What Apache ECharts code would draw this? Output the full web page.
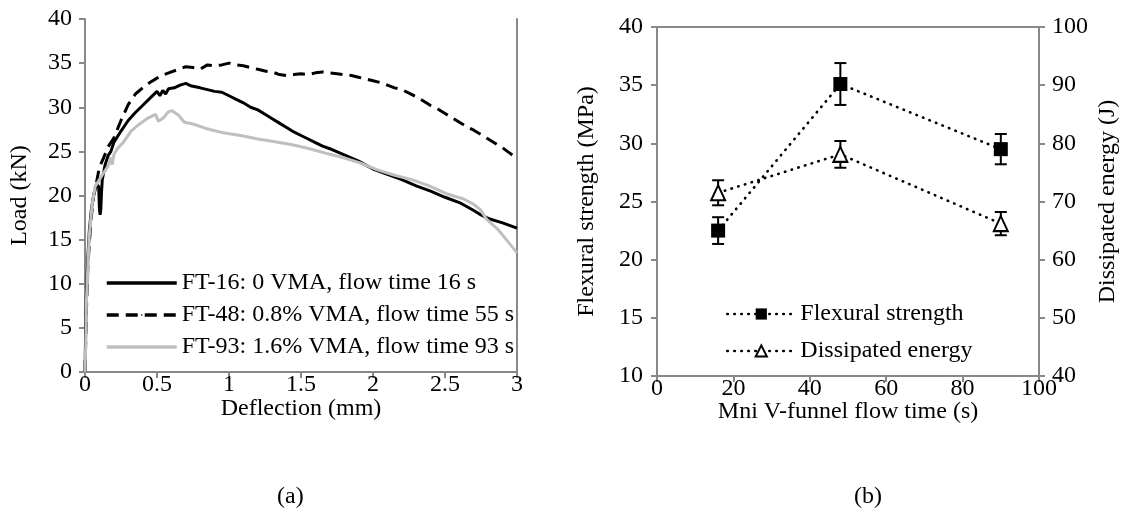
<!DOCTYPE html>
<html><head><meta charset="utf-8">
<script src="https://cdn.jsdelivr.net/npm/echarts@6/dist/echarts.min.js"></script>
<style>html,body{margin:0;padding:0;background:#fff}#c{width:1126px;height:518px}</style>
</head><body><div id="c"></div>
<script>
// ---- Data (a): load-deflection curves [deflection mm, load kN]
const ft16 = [[0,0],[0.005,5],[0.01,9],[0.02,13],[0.03,16],[0.045,18.5],[0.06,20],[0.08,21.3],[0.095,21.0],[0.1,18.5],[0.105,17.8],[0.11,18.5],[0.115,20.5],[0.12,21.8],[0.14,23.5],[0.16,24.5],[0.18,25],[0.2,26],[0.25,27.3],[0.3,28.5],[0.35,29.4],[0.4,30.2],[0.45,31],[0.5,31.8],[0.52,31.3],[0.54,31.9],[0.56,31.5],[0.58,32.1],[0.62,32.2],[0.66,32.5],[0.7,32.7],[0.74,32.4],[0.8,32.2],[0.85,32.0],[0.9,31.8],[0.95,31.7],[1.0,31.3],[1.05,30.9],[1.1,30.5],[1.15,30.0],[1.2,29.7],[1.25,29.2],[1.3,28.7],[1.35,28.2],[1.4,27.7],[1.45,27.2],[1.5,26.8],[1.55,26.4],[1.6,26.0],[1.65,25.6],[1.7,25.3],[1.8,24.6],[1.9,23.9],[2.0,23.0],[2.1,22.4],[2.2,21.8],[2.3,21.1],[2.4,20.5],[2.5,19.8],[2.6,19.2],[2.7,18.3],[2.75,17.8],[2.8,17.4],[2.9,16.9],[3.0,16.3]];
const ft48 = [[0,0],[0.01,7],[0.02,12],[0.04,17],[0.06,20],[0.08,21.5],[0.1,23.2],[0.13,24.3],[0.16,25.5],[0.2,26.5],[0.25,28.5],[0.3,30.3],[0.35,31.5],[0.4,32.2],[0.45,32.8],[0.5,33.3],[0.55,33.7],[0.6,34.0],[0.65,34.3],[0.7,34.6],[0.75,34.5],[0.8,34.3],[0.85,34.8],[0.9,34.7],[0.95,34.8],[1.0,35.0],[1.05,34.8],[1.1,34.7],[1.15,34.5],[1.2,34.3],[1.25,34.1],[1.3,34.0],[1.35,33.7],[1.4,33.6],[1.45,33.7],[1.5,33.8],[1.55,33.7],[1.6,33.9],[1.65,34.0],[1.7,33.9],[1.75,33.8],[1.8,33.7],[1.85,33.6],[1.9,33.4],[1.95,33.2],[2.0,33.0],[2.05,32.8],[2.1,32.5],[2.15,32.2],[2.2,32.0],[2.25,31.6],[2.3,31.2],[2.35,30.7],[2.4,30.2],[2.45,29.8],[2.5,29.3],[2.55,28.8],[2.6,28.3],[2.65,27.8],[2.7,27.4],[2.75,26.9],[2.8,26.4],[2.85,25.9],[2.9,25.4],[2.95,24.8],[3.0,24.2]];
const ft93 = [[0,0],[0.005,3],[0.01,8],[0.02,12],[0.03,15.5],[0.05,19],[0.07,21],[0.1,21.8],[0.13,22.6],[0.16,23.3],[0.18,24.3],[0.19,23.5],[0.2,24.6],[0.22,25.2],[0.27,26.1],[0.32,27.3],[0.37,28],[0.44,28.8],[0.49,29.2],[0.5,29.3],[0.51,28.4],[0.545,28.8],[0.58,29.5],[0.605,29.6],[0.65,29.1],[0.69,28.3],[0.75,28.1],[0.84,27.6],[0.96,27.1],[1.08,26.8],[1.2,26.4],[1.32,26.1],[1.44,25.75],[1.56,25.3],[1.67,24.8],[1.79,24.3],[1.91,23.7],[2.03,22.9],[2.15,22.3],[2.27,21.8],[2.39,21.1],[2.51,20.2],[2.63,19.6],[2.7,19.0],[2.745,18.4],[2.79,17.3],[2.865,16.2],[2.936,14.8],[3.0,13.5]];
const namesA = ['FT-16: 0 VMA, flow time 16 s','FT-48: 0.8% VMA, flow time 55 s','FT-93: 1.6% VMA, flow time 93 s'];

// ---- Data (b): flow time vs strength / energy
const flowTime = [16, 48, 90];
const flexStrength = [22.5, 35.1, 29.5];
const flexErr = [1.15, 1.8, 1.3];
const energy = [71.5, 78.1, 66.2];
const energyErr = [2.15, 2.3, 2.0];
const namesB = ['Flexural strength','Dissipated energy'];

const FONT = 'Liberation Serif';
const FS = 24;
const AX = '#888';

function errBar(params, api) {
  const x = api.value(0), y = api.value(1), e = api.value(2);
  const t = api.coord([x, y + e]), b = api.coord([x, y - e]);
  const hw = 6, st = {stroke:'#000', lineWidth:2};
  return {type:'group', children:[
    {type:'line', shape:{x1:t[0],y1:t[1],x2:b[0],y2:b[1]}, style:st},
    {type:'line', shape:{x1:t[0]-hw,y1:t[1],x2:t[0]+hw,y2:t[1]}, style:st},
    {type:'line', shape:{x1:b[0]-hw,y1:b[1],x2:b[0]+hw,y2:b[1]}, style:st}
  ]};
}

const axisCommon = {
  axisLine:{show:true, lineStyle:{color:AX, width:2}},
  axisTick:{show:true, inside:false, length:6, lineStyle:{color:AX, width:2}},
  splitLine:{show:false},
  nameMoveOverlap:false,
  axisLabel:{color:'#000', fontFamily:FONT, fontSize:FS},
  nameTextStyle:{color:'#000', fontFamily:FONT, fontSize:FS}
};
function lab(m){ return Object.assign({}, axisCommon.axisLabel, {margin:m}); }

const chart = echarts.init(document.getElementById('c'), null, {renderer:'canvas'});
chart.setOption({
  animation:false,
  textStyle:{fontFamily:FONT, color:'#000'},
  grid:[
    {left:85, top:19, width:432, height:353},
    {left:657, top:27, width:382, height:349, show:true, borderColor:AX, borderWidth:2}
  ],
  xAxis:[
    Object.assign({}, axisCommon, {gridIndex:0, type:'value', min:0, max:3, interval:0.5,
      name:'Deflection (mm)', nameLocation:'middle', nameGap:25, axisLabel:lab(1)}),
    Object.assign({}, axisCommon, {gridIndex:1, type:'value', min:0, max:100, interval:20,
      name:'Mni V-funnel flow time (s)', nameLocation:'middle', nameGap:24, axisLabel:lab(1)})
  ],
  yAxis:[
    Object.assign({}, axisCommon, {gridIndex:0, type:'value', min:0, max:40, interval:5,
      name:'Load (kN)', nameLocation:'middle', nameGap:53, nameRotate:90, axisLabel:lab(13)}),
    {gridIndex:0, type:'value', position:'right', min:0, max:40,
      axisLine:{show:true, lineStyle:{color:AX, width:2}}, axisTick:{show:false}, axisLabel:{show:false}, splitLine:{show:false}},
    Object.assign({}, axisCommon, {gridIndex:1, type:'value', min:10, max:40, interval:5,
      name:'Flexural strength (MPa)', nameLocation:'middle', nameGap:58, nameRotate:90, axisLabel:lab(14)}),
    Object.assign({}, axisCommon, {gridIndex:1, type:'value', position:'right', min:40, max:100, interval:10,
      name:'Dissipated energy (J)', nameLocation:'middle', nameGap:57, nameRotate:90, axisLabel:lab(13)})
  ],
  legend:[
    {data:namesA, orient:'vertical', left:105, top:271, padding:0, itemWidth:70, itemHeight:2, itemGap:8,
      lineStyle:{width:3.5},
      textStyle:{fontFamily:FONT, fontSize:FS, color:'#000', lineHeight:24}},
    {data:namesB, orient:'vertical', left:726, top:302, padding:0, itemWidth:68, itemHeight:14, itemGap:13,
      lineStyle:{width:2.6},
      textStyle:{fontFamily:FONT, fontSize:FS, color:'#000', lineHeight:24}}
  ],
  series:[
    {name:namesA[0], type:'line', xAxisIndex:0, yAxisIndex:0, data:ft16, showSymbol:false, symbol:'none',
      lineStyle:{color:'#000', width:3}, itemStyle:{color:'#000'}},
    {name:namesA[1], type:'line', xAxisIndex:0, yAxisIndex:0, data:ft48, showSymbol:false, symbol:'none',
      lineStyle:{color:'#000', width:3, type:[12,7]}, itemStyle:{color:'#000'}},
    {name:namesA[2], type:'line', xAxisIndex:0, yAxisIndex:0, data:ft93, showSymbol:false, symbol:'none',
      lineStyle:{color:'#bfbfbf', width:3}, itemStyle:{color:'#bfbfbf'}},
    {name:'flexErr', type:'custom', xAxisIndex:1, yAxisIndex:2, renderItem:errBar, z:1,
      data:flowTime.map((x,i)=>[x, flexStrength[i], flexErr[i]])},
    {name:'energyErr', type:'custom', xAxisIndex:1, yAxisIndex:3, renderItem:errBar, z:1,
      data:flowTime.map((x,i)=>[x, energy[i], energyErr[i]])},
    {name:namesB[0], type:'line', xAxisIndex:1, yAxisIndex:2, z:3,
      data:flowTime.map((x,i)=>[x, flexStrength[i]]), symbol:'rect', symbolSize:14,
      lineStyle:{color:'#000', width:2.6, type:[0.5,6.5], cap:'round'},
      itemStyle:{color:'#000', borderColor:'#000', borderWidth:0}},
    {name:namesB[1], type:'line', xAxisIndex:1, yAxisIndex:3, z:3,
      data:flowTime.map((x,i)=>[x, energy[i]]), symbol:'triangle', symbolSize:[14,15],
      lineStyle:{color:'#000', width:2.6, type:[0.5,6.5], cap:'round'},
      itemStyle:{color:'#fff', borderColor:'#000', borderWidth:2}}
  ],
  graphic:[
    {type:'text', left:277, top:485, style:{text:'(a)', font:FS+'px "'+FONT+'"', fill:'#000'}},
    {type:'text', left:854, top:485, style:{text:'(b)', font:FS+'px "'+FONT+'"', fill:'#000'}}
  ]
});
</script></body></html>
